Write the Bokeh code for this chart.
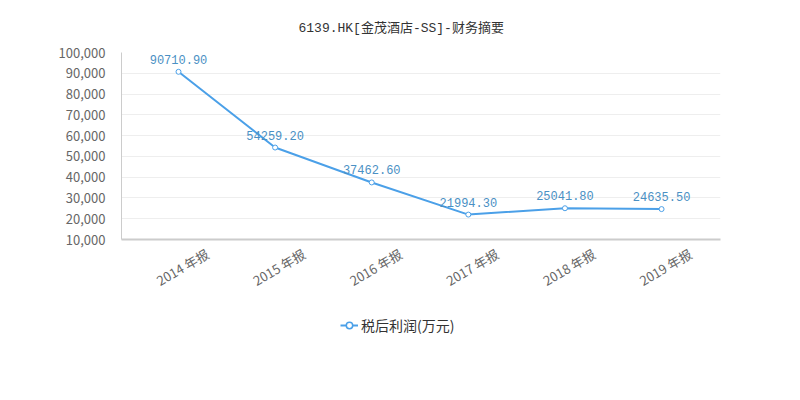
import math
from bokeh.plotting import figure
from bokeh.layouts import column
from bokeh.models import (ColumnDataSource, FixedTicker, NumeralTickFormatter,
                          Range1d, Legend, LegendItem, LabelSet)
from bokeh.core.properties import value
from bokeh.embed import file_html
from bokeh.resources import INLINE

title_text = "6139.HK[金茂酒店-SS]-财务摘要"
categories = ["2014 年报", "2015 年报", "2016 年报", "2017 年报", "2018 年报", "2019 年报"]
profit = [90710.90, 54259.20, 37462.60, 21994.30, 25041.80, 24635.50]
series_name = "税后利润(万元)"
y_ticks = [10000, 20000, 30000, 40000, 50000, 60000, 70000, 80000, 90000, 100000]

xs = list(range(len(categories)))
src = ColumnDataSource(dict(x=xs, y=profit, lbl=["%.2f" % v for v in profit]))

LINE = "#4ba0e8"
CJK = "Noto Sans CJK SC"

p = figure(width=784, height=300, output_backend="svg", toolbar_location=None,
           x_range=Range1d(-0.59, 5.61), y_range=Range1d(10000, 100000),
           min_border_left=121, min_border_right=64, min_border_top=52,
           min_border_bottom=60)
p.outline_line_color = None
p.background_fill_color = "white"
p.border_fill_color = "white"

p.title.text = title_text
p.title.text_font = "'Liberation Mono', 'Noto Sans CJK SC'"
p.title.text_font_size = "13px"
p.title.text_font_style = "normal"
p.title.text_color = "#333333"
p.title.align = "left"
p.title.offset = 177
p.title.standoff = 33

# axes: label anchors shifted so rotated labels sit centred under each point
shift = 0.3
x_tick_pos = [i + shift for i in xs]
p.xaxis.ticker = FixedTicker(ticks=x_tick_pos)
p.xaxis.major_label_overrides = {t: c for t, c in zip(x_tick_pos, categories)}
p.xaxis.major_label_orientation = math.pi / 6
p.xaxis.major_label_text_font = CJK
p.xaxis.major_label_text_font_size = "13px"
p.xaxis.major_label_text_color = "#666666"
p.xaxis.major_tick_line_color = None
p.xaxis.minor_tick_line_color = None
p.xaxis.axis_line_color = "#cccccc"
p.xaxis.axis_line_width = 2
p.xaxis.major_label_standoff = 7

p.yaxis.ticker = FixedTicker(ticks=y_ticks)
p.yaxis.formatter = NumeralTickFormatter(format="0,0")
p.yaxis.major_label_text_font = CJK
p.yaxis.major_label_text_font_size = "13px"
p.yaxis.major_label_text_color = "#666666"
p.yaxis.major_tick_line_color = None
p.yaxis.minor_tick_line_color = None
p.yaxis.axis_line_color = "#cccccc"
p.yaxis.axis_line_width = 1
p.yaxis.major_label_standoff = 10

p.xgrid.grid_line_color = None
p.ygrid.ticker = FixedTicker(ticks=y_ticks)
p.ygrid.grid_line_color = "#eeeeee"

r_line = p.line("x", "y", source=src, line_color=LINE, line_width=2)
r_pts = p.scatter("x", "y", source=src, size=5, fill_color="white",
                  line_color=LINE, line_width=1)

labels = LabelSet(x="x", y="y", text="lbl", source=src, y_offset=8,
                  text_align="center", text_baseline="bottom",
                  text_font=value("Liberation Mono"), text_font_size="12px",
                  text_color="#4a90c4")
p.add_layout(labels)

# legend strip below the chart (its renderers share the series data, out of view)
lg = figure(width=784, height=84, output_backend="svg", toolbar_location=None,
            x_range=Range1d(0, 1), y_range=Range1d(0, 1),
            x_axis_location=None, y_axis_location=None,
            min_border_left=0, min_border_right=0, min_border_top=0,
            min_border_bottom=0)
lg.grid.visible = False
lg.outline_line_color = None
l_line = lg.line("x", "y", source=src, line_color=LINE, line_width=2)
l_pts = lg.scatter("x", "y", source=src, size=7, fill_color="white",
                   line_color=LINE, line_width=1.5)
legend = Legend(items=[LegendItem(label=series_name, renderers=[l_line, l_pts])],
                location=(219, 49), orientation="horizontal",
                border_line_color=None, background_fill_alpha=0,
                label_text_font=CJK, label_text_font_size="14px",
                label_text_color="#333333", glyph_width=18, glyph_height=16,
                label_height=16, padding=0, margin=0, label_standoff=3)
lg.add_layout(legend, "center")

open("out.html", "w").write(file_html(column(p, lg, spacing=0), INLINE))
